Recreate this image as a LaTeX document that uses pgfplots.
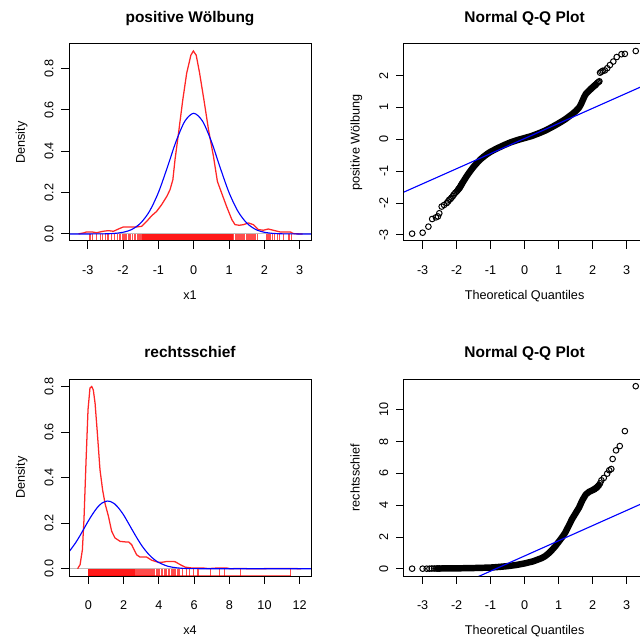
\documentclass[border=0pt]{standalone}
\usepackage{pgfplots}
\pgfplotsset{compat=1.18}
\usepackage{fontspec}
\setmainfont{Liberation Sans}
\definecolor{rred}{RGB}{255,0,0}
\definecolor{rblue}{RGB}{0,0,255}
\definecolor{rgray}{RGB}{190,190,190}

\pgfplotsset{
  rpanel/.style={
    scale only axis, width=6.05cm, height=4.92cm,
    anchor=south west,
    axis line style={line width=0.7pt},
    tick style={line width=0.7pt, black},
    major tick length=0.19cm,
    tick align=outside, tick pos=left,
    axis on top,
    tick label style={font=\fontsize{9}{10}\selectfont},
    label style={font=\fontsize{9}{10}\selectfont},
    title style={at={(axis description cs:0.5,1)}, anchor=base, yshift=0.32cm,
                 font=\fontsize{11}{13}\selectfont\bfseries},
    xlabel style={at={(axis description cs:0.5,0)}, anchor=base, yshift=-1.475cm},
    ylabel style={at={(axis description cs:-0.182,0.5)}, anchor=base},
    xticklabel style={anchor=base, yshift=-0.64cm},
    yticklabel style={xshift=-0.2cm, rotate=90, anchor=base},
  },
  rug/.style={ycomb, draw=rred, draw opacity=0.7, line width=0.7pt, mark=none},
  dens/.style={rred, draw opacity=0.85, line width=0.9pt, mark=none},
  nrm/.style={rblue, line width=0.8pt, mark=none, smooth},
  qq/.style={only marks, mark=o, mark size=2pt, mark options={line width=0.7pt, draw=black}},
  band/.style={black, line width=4.6pt, line cap=round, line join=round, mark=none},
}

\begin{document}
\begin{tikzpicture}
\useasboundingbox (0,0) rectangle (16cm,15.975cm);
\clip (0,0) rectangle (16cm,15.975cm);

% ---------- top left: density of x1 ----------
\begin{axis}[rpanel, at={(1.725cm,9.95cm)}, height=4.925cm,
  xmin=-3.53, xmax=3.32, ymin=-0.034, ymax=0.918,
  xtick={-3,-2,-1,0,1,2,3}, xticklabels={-3,-2,-1,0,1,2,3},
  ytick={0,0.2,0.4,0.6,0.8}, yticklabels={0.0,0.2,0.4,0.6,0.8},
  title={positive Wölbung}, xlabel={x1}, ylabel={Density}]
\addplot[rgray, line width=0.7pt] coordinates {(-3.53,0)(3.32,0)};
\addplot[dens] coordinates {
(-3.26,0.0005)(-3.12,0.005)(-3.03,0.010)(-2.89,0.010)(-2.75,0.006)(-2.56,0.013)
(-2.42,0.016)(-2.27,0.013)(-2.13,0.024)(-1.99,0.034)(-1.80,0.034)(-1.61,0.034)
(-1.47,0.037)(-1.33,0.061)(-1.19,0.088)(-1.05,0.109)(-0.91,0.141)(-0.76,0.182)
(-0.67,0.214)(-0.59,0.262)(-0.53,0.358)(-0.43,0.487)(-0.31,0.647)(-0.20,0.776)
(-0.08,0.864)(-0.01,0.884)(0.07,0.864)(0.16,0.784)(0.29,0.647)(0.42,0.503)
(0.56,0.374)(0.67,0.254)(0.79,0.198)(0.93,0.133)(1.08,0.069)(1.17,0.045)
(1.29,0.042)(1.41,0.045)(1.55,0.053)(1.69,0.045)(1.83,0.021)(1.97,0.018)
(2.11,0.024)(2.25,0.018)(2.44,0.010)(2.73,0.010)(2.82,0.002)(2.92,0.0005)(3.08,0)};
\addplot[draw=none, fill=rred, fill opacity=0.9] coordinates {(-1.45,-0.034)(1.10,-0.034)(1.10,0)(-1.45,0)};
\addplot[rug] coordinates {
(-2.96,-0.034)(-2.93,-0.034)(-2.87,-0.034)(-2.76,-0.034)(-2.74,-0.034)(-2.65,-0.034)
(-2.57,-0.034)(-2.50,-0.034)(-2.45,-0.034)(-2.40,-0.034)(-2.32,-0.034)(-2.24,-0.034)
(-2.17,-0.034)(-2.11,-0.034)(-2.06,-0.034)(-2.02,-0.034)(-2.00,-0.034)(-1.96,-0.034)
(-1.93,-0.034)(-1.90,-0.034)(-1.86,-0.034)(-1.83,-0.034)(-1.78,-0.034)(-1.73,-0.034)
(-1.69,-0.034)(-1.64,-0.034)(-1.60,-0.034)(-1.57,-0.034)(-1.54,-0.034)(-1.51,-0.034)
(-1.48,-0.034)
(1.12,-0.034)(1.14,-0.034)(1.17,-0.034)(1.19,-0.034)(1.22,-0.034)(1.25,-0.034)
(1.27,-0.034)(1.30,-0.034)(1.33,-0.034)(1.36,-0.034)(1.39,-0.034)(1.42,-0.034)
(1.45,-0.034)(1.48,-0.034)(1.51,-0.034)(1.54,-0.034)(1.57,-0.034)(1.60,-0.034)
(1.63,-0.034)(1.66,-0.034)(1.69,-0.034)(1.72,-0.034)(1.76,-0.034)(1.80,-0.034)
(2.07,-0.034)(2.09,-0.034)(2.12,-0.034)(2.15,-0.034)(2.18,-0.034)(2.23,-0.034)
(2.30,-0.034)(2.36,-0.034)(2.44,-0.034)(2.54,-0.034)(2.68,-0.034)(2.70,-0.034)(2.78,-0.034)};
\addplot[nrm] coordinates {
(-3.53,0)(-3,0)(-2.5,0.0007)(-2.25,0.0026)(-2,0.0081)(-1.75,0.022)(-1.5,0.053)
(-1.25,0.110)(-1,0.200)(-0.75,0.320)(-0.5,0.447)(-0.25,0.545)(0,0.583)(0.25,0.545)
(0.5,0.447)(0.75,0.320)(1,0.200)(1.25,0.110)(1.5,0.053)(1.75,0.022)(2,0.0081)
(2.25,0.0026)(2.5,0.0007)(3,0)(3.32,0)};
\end{axis}

% ---------- top right: Q-Q plot of x1 ----------
\begin{axis}[rpanel, at={(10.09cm,9.95cm)}, height=4.925cm,
  xmin=-3.56, xmax=3.56, ymin=-3.19, ymax=2.99,
  xtick={-3,-2,-1,0,1,2,3}, xticklabels={-3,-2,-1,0,1,2,3},
  ytick={-3,-2,-1,0,1,2}, yticklabels={-3,-2,-1,0,1,2},
  title={Normal Q-Q Plot}, xlabel={Theoretical Quantiles}, ylabel={positive Wölbung}]
\addplot[band] coordinates {
(-1.95,-1.57)(-1.9,-1.50)(-1.8,-1.32)(-1.7,-1.15)(-1.6,-1.0)(-1.5,-0.86)(-1.4,-0.74)
(-1.3,-0.63)(-1.2,-0.54)(-1.1,-0.46)(-1.0,-0.39)(-0.8,-0.28)(-0.6,-0.18)(-0.4,-0.09)
(-0.2,-0.02)(0,0.04)(0.2,0.10)(0.4,0.18)(0.6,0.27)(0.8,0.38)(1.0,0.50)(1.2,0.63)
(1.4,0.79)(1.5,0.88)(1.6,0.99)(1.65,1.08)(1.7,1.20)(1.75,1.32)(1.8,1.42)(1.9,1.53)
(2.0,1.63)(2.1,1.72)};
\addplot[qq] coordinates {
(-3.31,-2.96)(-3.0,-2.93)(-2.83,-2.74)(-2.72,-2.50)(-2.61,-2.45)(-2.55,-2.42)
(-2.51,-2.32)(-2.44,-2.11)(-2.37,-2.06)(-2.29,-2.00)(-2.25,-1.95)(-2.22,-1.90)
(-2.18,-1.87)(-2.15,-1.83)(-2.11,-1.78)(-2.08,-1.73)(-2.04,-1.68)(-2.0,-1.64)
(-1.97,-1.60)(-1.94,-1.56)(-1.91,-1.52)(-1.88,-1.46)(-1.85,-1.40)
(1.95,1.58)(1.99,1.62)(2.03,1.66)(2.06,1.69)(2.09,1.71)(2.12,1.75)(2.15,1.78)
(2.18,1.80)(2.20,1.82)(2.22,2.09)(2.26,2.12)(2.30,2.15)(2.36,2.16)(2.43,2.23)
(2.51,2.33)(2.61,2.44)(2.71,2.58)(2.85,2.67)(2.95,2.68)(3.27,2.77)};
\addplot[rblue, line width=0.8pt] coordinates {(-3.56,-1.66)(3.56,1.71)};
\end{axis}

% ---------- bottom left: density of x4 ----------
\begin{axis}[rpanel, at={(1.725cm,1.575cm)},
  xmin=-1.1, xmax=12.64, ymin=-0.032, ymax=0.832,
  xtick={0,2,4,6,8,10,12}, xticklabels={0,2,4,6,8,10,12},
  ytick={0,0.2,0.4,0.6,0.8}, yticklabels={0.0,0.2,0.4,0.6,0.8},
  title={rechtsschief}, xlabel={x4}, ylabel={Density}]
\addplot[rgray, line width=0.7pt] coordinates {(-1.1,0)(12.64,0)};
\addplot[dens] coordinates {
(-0.61,0)(-0.47,0.018)(-0.34,0.083)(-0.25,0.215)(-0.13,0.478)(-0.02,0.698)
(0.09,0.793)(0.19,0.80)(0.28,0.785)(0.38,0.727)(0.51,0.595)(0.66,0.434)
(0.81,0.345)(0.95,0.285)(1.14,0.23)(1.32,0.165)(1.51,0.135)(1.80,0.12)
(2.18,0.117)(2.30,0.117)(2.46,0.105)(2.74,0.061)(2.93,0.051)(3.31,0.051)
(3.6,0.037)(3.98,0.028)(4.26,0.029)(4.45,0.032)(4.92,0.031)(5.21,0.018)
(5.49,0.007)(5.87,0.003)(6.53,0.003)(6.81,0.0005)(7.29,0.003)(7.86,0.003)
(8.04,0)(8.6,0.001)(9.2,0)(11.48,0.001)(12.08,0)};
\addplot[draw=none, fill=rred, fill opacity=0.9] coordinates {(0,-0.032)(2.62,-0.032)(2.62,0)(0,0)};
\addplot[rug] coordinates {
(2.65,-0.032)(2.69,-0.032)(2.72,-0.032)(2.76,-0.032)(2.80,-0.032)(2.84,-0.032)
(2.87,-0.032)(2.92,-0.032)(2.97,-0.032)(3.00,-0.032)(3.05,-0.032)(3.10,-0.032)
(3.14,-0.032)(3.20,-0.032)(3.25,-0.032)(3.30,-0.032)(3.36,-0.032)(3.42,-0.032)
(3.47,-0.032)(3.53,-0.032)(3.58,-0.032)(3.65,-0.032)(3.70,-0.032)(3.78,-0.032)
(3.85,-0.032)(3.92,-0.032)(4.00,-0.032)(4.06,-0.032)(4.14,-0.032)(4.22,-0.032)
(4.30,-0.032)(4.38,-0.032)(4.45,-0.032)(4.55,-0.032)(4.62,-0.032)(4.70,-0.032)
(4.78,-0.032)(4.84,-0.032)(4.88,-0.032)(4.92,-0.032)(4.97,-0.032)(5.05,-0.032)
(5.12,-0.032)(5.20,-0.032)(5.37,-0.032)(5.57,-0.032)(5.72,-0.032)(5.99,-0.032)
(6.20,-0.032)(6.28,-0.032)(6.91,-0.032)(7.45,-0.032)(7.72,-0.032)(8.66,-0.032)(11.48,-0.032)};
\addplot[rred, draw opacity=0.6, line width=0.7pt] coordinates {(0,-0.030)(11.48,-0.030)};
\addplot[nrm] coordinates {
(-1.1,0.074)(-0.75,0.111)(-0.5,0.142)(-0.25,0.176)(0,0.210)(0.25,0.241)(0.5,0.268)
(0.75,0.287)(1.0,0.296)(1.1,0.297)(1.25,0.295)(1.5,0.284)(1.75,0.263)(2.0,0.236)
(2.25,0.203)(2.5,0.169)(2.75,0.136)(3.0,0.105)(3.25,0.079)(3.5,0.057)(3.75,0.040)
(4.0,0.027)(4.5,0.011)(5.0,0.004)(5.5,0.001)(6.0,0.0003)(7,0)(12.64,0)};
\end{axis}

% ---------- bottom right: Q-Q plot of x4 ----------
\begin{axis}[rpanel, at={(10.09cm,1.575cm)},
  xmin=-3.56, xmax=3.56, ymin=-0.44, ymax=11.92,
  xtick={-3,-2,-1,0,1,2,3}, xticklabels={-3,-2,-1,0,1,2,3},
  ytick={0,2,4,6,8,10}, yticklabels={0,2,4,6,8,10},
  title={Normal Q-Q Plot}, xlabel={Theoretical Quantiles}, ylabel={rechtsschief}]
\addplot[band] coordinates {
(-2.55,0.03)(-2.0,0.04)(-1.5,0.06)(-1.0,0.09)(-0.75,0.13)(-0.5,0.18)(-0.25,0.25)
(0,0.35)(0.25,0.48)(0.5,0.68)(0.6,0.80)(0.7,0.97)(0.8,1.18)(0.9,1.42)(1.0,1.70)
(1.1,1.98)(1.2,2.30)(1.3,2.72)(1.4,3.15)(1.5,3.50)(1.6,3.85)(1.7,4.32)(1.8,4.68)
(1.9,4.85)(2.0,4.95)(2.1,5.08)(2.18,5.25)};
\addplot[qq] coordinates {
(-3.31,0.02)(-3.0,0.02)(-2.88,0.02)(-2.80,0.02)(-2.73,0.03)(-2.66,0.03)(-2.60,0.03)
(-2.55,0.03)(-2.50,0.03)
(2.05,5.0)(2.10,5.08)(2.14,5.15)(2.18,5.25)(2.22,5.38)(2.26,5.57)(2.33,5.72)
(2.43,5.99)(2.49,6.2)(2.55,6.28)(2.59,6.91)(2.69,7.45)(2.80,7.72)(2.95,8.66)(3.27,11.48)};
\addplot[rblue, line width=0.8pt] coordinates {(-3.56,-2.57)(3.56,4.21)};
\end{axis}
\end{tikzpicture}
\end{document}
